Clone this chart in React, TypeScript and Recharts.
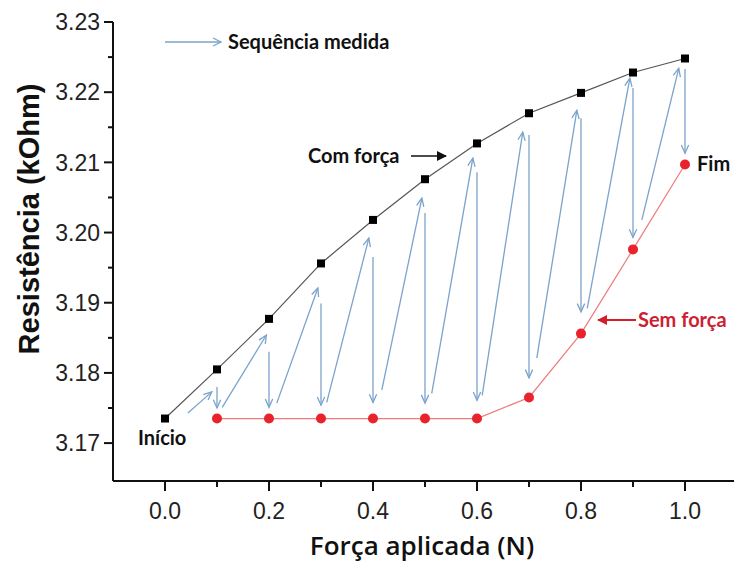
import React from 'react';
import { LineChart, Line, XAxis, YAxis, ReferenceLine } from 'recharts';

// force steps (N) and the two measured resistance curves (kOhm)
const forceN = [0, 0.1, 0.2, 0.3, 0.4, 0.5, 0.6, 0.7, 0.8, 0.9, 1.0];
const withForce = [3.1735, 3.1805, 3.1877, 3.1956, 3.2018, 3.2076, 3.2127, 3.217, 3.2199, 3.2228, 3.2248];
const withoutForce = [null, 3.1735, 3.1735, 3.1735, 3.1735, 3.1735, 3.1735, 3.1765, 3.1856, 3.1976, 3.2097];

// measurement sequence arrows: slanted "rise" arrows and vertical "release" arrows
const riseFromX = [0.044, 0.11, 0.215, 0.311, 0.417, 0.513, 0.61, 0.715, 0.812, 0.917];
const riseFromY = [3.1743, 3.1751, 3.1757, 3.1758, 3.1776, 3.1771, 3.1768, 3.1821, 3.1892, 3.2018];
const riseToX = [0.09, 0.195, 0.294, 0.392, 0.494, 0.592, 0.688, 0.792, 0.894, 0.988];
const riseToY = [3.1773, 3.1854, 3.1921, 3.1992, 3.2049, 3.2106, 3.2143, 3.2174, 3.222, 3.2234];
const dropX = [0.1, 0.2, 0.3, 0.4, 0.5, 0.6, 0.7, 0.8, 0.9, 1.0];
const dropFromY = [3.178, 3.183, 3.1899, 3.1965, 3.2028, 3.2086, 3.2139, 3.2163, 3.2206, 3.2233];
const dropToY = [3.175, 3.1751, 3.1754, 3.1758, 3.1757, 3.1761, 3.1793, 3.1887, 3.1993, 3.2113];

const xTicks = [0, 0.1, 0.2, 0.3, 0.4, 0.5, 0.6, 0.7, 0.8, 0.9, 1.0];
const yTicks = [3.17, 3.175, 3.18, 3.185, 3.19, 3.195, 3.2, 3.205, 3.21, 3.215, 3.22, 3.225, 3.23];

const data = forceN.map((x, i) => ({ x, withForce: withForce[i], withoutForce: withoutForce[i] }));

const TICK_SIZE = 8;
const X_TICK_MARGIN = 14;
const Y_TICK_MARGIN = 5;
const tickFont = '"Liberation Sans", Arial, sans-serif';
const noteFont = 'Lato, "Open Sans", sans-serif';
const arrowBlue = '#7ba3cb';

const XTick = (props: any) => {
  const { x, y, payload } = props;
  const v = payload.value;
  const major = Math.round(v * 10) % 2 === 0;
  const axisY = y - TICK_SIZE - X_TICK_MARGIN;
  return (
    <g>
      <line x1={x} x2={x} y1={axisY} y2={axisY + (major ? 10 : 6)} stroke="#111" strokeWidth={2} />
      {major && (
        <text x={x} y={y} dy="0.71em" textAnchor="middle" fontSize={23} fontFamily={tickFont} fill="#222">
          {v.toFixed(1)}
        </text>
      )}
    </g>
  );
};

const YTick = (props: any) => {
  const { x, y, payload } = props;
  const v = payload.value;
  const major = Math.round(v * 1000) % 10 === 0;
  const axisX = x + TICK_SIZE + Y_TICK_MARGIN;
  return (
    <g>
      <line x1={axisX - (major ? 9 : 5)} x2={axisX} y1={y} y2={y} stroke="#111" strokeWidth={2} />
      {major && (
        <text x={x} y={y} dy="0.36em" textAnchor="end" fontSize={23} fontFamily={tickFont} fill="#222">
          {v.toFixed(2)}
        </text>
      )}
    </g>
  );
};

const Square = (props: any) => {
  const { cx, cy, index } = props;
  if (cx == null || cy == null) return <g key={index} />;
  return <rect key={index} x={cx - 4} y={cy - 4} width={8} height={8} fill="#000" />;
};

const RedDot = (props: any) => {
  const { cx, cy, index, value } = props;
  if (cx == null || cy == null || value == null) return <g key={index} />;
  return <circle key={index} cx={cx} cy={cy} r={5} fill="#e8232b" />;
};

const ArrowShape = (props: any) => {
  const { x1, y1, x2, y2 } = props;
  if ([x1, y1, x2, y2].some((n) => n == null || Number.isNaN(n))) return <g />;
  const ang = Math.atan2(y2 - y1, x2 - x1);
  const len = 9;
  const spread = 0.42;
  const ax = x2 - len * Math.cos(ang - spread);
  const ay = y2 - len * Math.sin(ang - spread);
  const bx = x2 - len * Math.cos(ang + spread);
  const by = y2 - len * Math.sin(ang + spread);
  return (
    <g>
      <line x1={x1} y1={y1} x2={x2} y2={y2} stroke={arrowBlue} strokeWidth={1.3} />
      <polyline points={`${ax},${ay} ${x2},${y2} ${bx},${by}`} fill="none" stroke={arrowBlue} strokeWidth={1.3} />
    </g>
  );
};

export default function App() {
  return (
    <div style={{ position: 'absolute', left: 0, top: 0, width: 734, height: 562, overflow: 'hidden', background: '#fff' }}>
      <LineChart width={742} height={562} data={data} margin={{ top: 22, right: 5, bottom: 21, left: 43 }}>
        <XAxis
          dataKey="x"
          type="number"
          domain={[-0.1, 1.1]}
          ticks={xTicks}
          interval={0}
          height={60}
          tickSize={TICK_SIZE}
          tickMargin={X_TICK_MARGIN}
          tickLine={false}
          tick={<XTick />}
          axisLine={{ stroke: '#111', strokeWidth: 2 }}
          allowDataOverflow
        />
        <YAxis
          type="number"
          domain={[3.1646, 3.23]}
          ticks={yTicks}
          interval={0}
          width={70}
          tickSize={TICK_SIZE}
          tickMargin={Y_TICK_MARGIN}
          tickLine={false}
          tick={<YTick />}
          axisLine={{ stroke: '#111', strokeWidth: 2 }}
          allowDataOverflow
        />
        {riseFromX.map((fx, i) => (
          <ReferenceLine
            key={`rise-${i}`}
            segment={[
              { x: fx, y: riseFromY[i] },
              { x: riseToX[i], y: riseToY[i] },
            ]}
            shape={ArrowShape}
            ifOverflow="visible"
          />
        ))}
        {dropX.map((dx, i) => (
          <ReferenceLine
            key={`drop-${i}`}
            segment={[
              { x: dx, y: dropFromY[i] },
              { x: dx, y: dropToY[i] },
            ]}
            shape={ArrowShape}
            ifOverflow="visible"
          />
        ))}
        <Line
          dataKey="withForce"
          stroke="#555"
          strokeWidth={1.2}
          dot={Square}
          activeDot={false}
          isAnimationActive={false}
        />
        <Line
          dataKey="withoutForce"
          stroke="#ef7a7a"
          strokeWidth={1.2}
          dot={RedDot}
          activeDot={false}
          isAnimationActive={false}
        />
      </LineChart>
      <svg width={734} height={562} style={{ position: 'absolute', left: 0, top: 0, pointerEvents: 'none' }}>
        <defs>
          <marker id="headBlack" viewBox="0 0 10 10" refX="9" refY="5" markerWidth="10" markerHeight="10" markerUnits="userSpaceOnUse" orient="auto">
            <path d="M0,0 L10,5 L0,10 z" fill="#111" />
          </marker>
          <marker id="headRed" viewBox="0 0 10 10" refX="9" refY="5" markerWidth="10" markerHeight="10" markerUnits="userSpaceOnUse" orient="auto">
            <path d="M0,0 L10,5 L0,10 z" fill="#d0202e" />
          </marker>
        </defs>
        <line x1={165} y1={42} x2={221} y2={42} stroke={arrowBlue} strokeWidth={1.3} />
        <polyline points="213,38 221,42 213,46" fill="none" stroke={arrowBlue} strokeWidth={1.3} />
        <text x={228} y={49} fontSize={20} fontWeight={700} fontFamily={noteFont} fill="#111">Sequência medida</text>
        <text x={308} y={163} fontSize={20} fontWeight={700} fontFamily={noteFont} fill="#111">Com força</text>
        <line x1={411} y1={156} x2={446} y2={156} stroke="#111" strokeWidth={1.6} markerEnd="url(#headBlack)" />
        <text x={697} y={171} fontSize={20} fontWeight={700} fontFamily={noteFont} fill="#111">Fim</text>
        <text x={138} y={445} fontSize={20} fontWeight={700} fontFamily={noteFont} fill="#111">Início</text>
        <text x={638} y={327} fontSize={20} fontWeight={700} fontFamily={noteFont} fill="#cc1f33">Sem força</text>
        <line x1={636} y1={320} x2={598} y2={320} stroke="#d0202e" strokeWidth={1.8} markerEnd="url(#headRed)" />
        <text
          transform="translate(39,219) rotate(-90)"
          textAnchor="middle"
          fontSize={29}
          fontWeight={700}
          fontFamily={tickFont}
          fill="#111"
        >
          Resistência (kOhm)
        </text>
        <text x={422} y={555} textAnchor="middle" fontSize={26} fontWeight={600} fontFamily='"Open Sans", sans-serif' fill="#111">
          Força aplicada (N)
        </text>
      </svg>
    </div>
  );
}
